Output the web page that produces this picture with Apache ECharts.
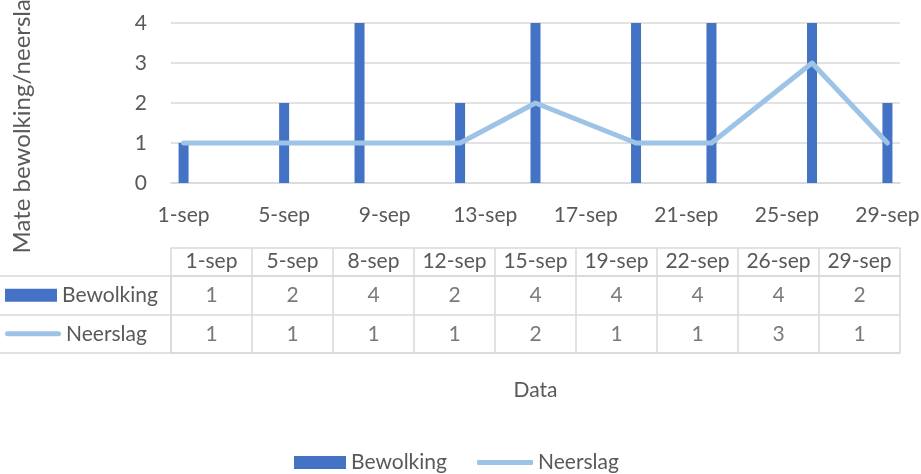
<!DOCTYPE html>
<html>
<head>
<meta charset="utf-8">
<script src="https://cdn.jsdelivr.net/npm/echarts@6/dist/echarts.min.js"></script>
<style>
  html, body { margin: 0; padding: 0; background: #fff; }
  #chart { width: 921px; height: 474px; }
</style>
</head>
<body>
<div id="chart"></div>
<script>
// Observation dates (September) and the two ratings per date
const dates = ['1-sep', '5-sep', '8-sep', '12-sep', '15-sep', '19-sep', '22-sep', '26-sep', '29-sep'];
const bewolking = [1, 2, 4, 2, 4, 4, 4, 4, 2];
const neerslag = [1, 1, 1, 1, 2, 1, 1, 3, 1];
// Day numbers shown on the date axis
const dayTicks = [1, 5, 9, 13, 17, 21, 25, 29];
const seriesNames = ['Bewolking', 'Neerslag'];

const FONT = 'Lato';
const TEXT = '#595959';
const GRID = '#D9D9D9';
const BAR = '#4472C4';
const LINE = '#9DC3E6';

const dayOf = s => parseInt(s, 10);
const barData = dates.map((d, i) => [dayOf(d), bewolking[i]]);
const lineData = dates.map((d, i) => [dayOf(d), neerslag[i]]);

// Cells of the data table underneath the chart
const cellData = [];
dates.forEach((d, i) => {
  cellData.push([d, seriesNames[0], bewolking[i]]);
  cellData.push([d, seriesNames[1], neerslag[i]]);
});

const legendText = { fontFamily: FONT, fontSize: 21, color: TEXT };

const chart = echarts.init(document.getElementById('chart'));
chart.setOption({
  backgroundColor: '#fff',
  textStyle: { fontFamily: FONT, color: TEXT },
  animation: false,
  grid: [
    { left: 171, right: 21, top: 23, height: 160, outerBoundsMode: 'none' },
    { left: 171, right: 21, top: 276, height: 77, outerBoundsMode: 'none' }
  ],
  legend: [
    {
      data: [{ name: 'Bewolking', icon: 'rect' }],
      left: 289,
      top: 447,
      itemWidth: 52,
      itemHeight: 13,
      itemGap: 0,
      textStyle: legendText
    },
    {
      data: [{ name: 'Neerslag', icon: 'roundRect' }],
      left: 472,
      top: 447,
      itemWidth: 56,
      itemHeight: 5,
      itemGap: 0,
      textStyle: legendText
    }
  ],
  xAxis: [
    {
      type: 'value',
      gridIndex: 0,
      min: 0.5,
      max: 29.5,
      name: 'Data',
      nameLocation: 'middle',
      nameGap: 197,
      nameTextStyle: { fontFamily: FONT, fontSize: 21, color: TEXT },
      axisLine: { show: true, lineStyle: { color: GRID, width: 1.5 } },
      axisTick: { show: false },
      splitLine: { show: false },
      axisLabel: {
        customValues: dayTicks,
        formatter: v => v + '-sep',
        margin: 22,
        fontFamily: FONT, fontSize: 21, color: TEXT
      }
    },
    {
      type: 'category',
      gridIndex: 1,
      data: dates,
      position: 'top',
      axisLine: { show: true, lineStyle: { color: GRID, width: 1.5 } },
      axisTick: { show: true, interval: 0, inside: false, length: 28, lineStyle: { color: GRID, width: 1.5 } },
      splitLine: { show: true, interval: 0, lineStyle: { color: GRID, width: 1.5 } },
      axisLabel: { interval: 0, margin: 4, fontFamily: FONT, fontSize: 21, color: TEXT }
    },
    {
      type: 'category',
      gridIndex: 1,
      data: dates,
      position: 'top',
      offset: 28,
      axisLine: { show: true, lineStyle: { color: GRID, width: 1.5 } },
      axisTick: { show: false },
      axisLabel: { show: false },
      splitLine: { show: false }
    },
    {
      type: 'category',
      gridIndex: 1,
      data: dates,
      position: 'bottom',
      axisLine: { show: true, lineStyle: { color: GRID, width: 1.5 } },
      axisTick: { show: false },
      axisLabel: { show: false },
      splitLine: { show: false }
    }
  ],
  yAxis: [
    {
      type: 'value',
      gridIndex: 0,
      min: 0,
      max: 4,
      interval: 1,
      name: 'Mate bewolking/neerslag',
      nameLocation: 'middle',
      nameGap: 137,
      nameTextStyle: { fontFamily: FONT, fontSize: 24, color: TEXT, padding: [0, 34, 0, 0] },
      axisLine: { show: false },
      axisTick: { show: false },
      splitLine: { show: true, lineStyle: { color: GRID, width: 1.5 } },
      axisLabel: { margin: 24, fontFamily: FONT, fontSize: 21, color: TEXT }
    },
    {
      type: 'category',
      gridIndex: 1,
      data: seriesNames,
      inverse: true,
      axisLine: { show: true, lineStyle: { color: GRID, width: 1.5 } },
      axisTick: { show: true, interval: 0, inside: false, length: 171, lineStyle: { color: GRID, width: 1.5 } },
      splitLine: { show: true, interval: 0, lineStyle: { color: GRID, width: 1.5 } },
      axisLabel: {
        interval: 0,
        align: 'left',
        margin: 166,
        formatter: v => (v === 'Bewolking' ? '{bar|}' : '{ln|}') + '{t|' + v + '}',
        rich: {
          bar: { width: 52, height: 13, backgroundColor: BAR },
          ln: { width: 56, height: 5, backgroundColor: LINE, borderRadius: 3 },
          t: { fontFamily: FONT, fontSize: 21, color: TEXT, padding: [0, 0, 0, 5] }
        }
      }
    }
  ],
  series: [
    {
      name: 'Bewolking',
      type: 'bar',
      xAxisIndex: 0,
      yAxisIndex: 0,
      data: barData,
      barWidth: 10,
      itemStyle: { color: BAR },
      z: 2
    },
    {
      name: 'Neerslag',
      type: 'line',
      xAxisIndex: 0,
      yAxisIndex: 0,
      data: lineData,
      symbol: 'none',
      lineStyle: { color: LINE, width: 5, cap: 'round', join: 'round' },
      itemStyle: { color: LINE },
      z: 3
    },
    {
      name: 'tabel',
      type: 'scatter',
      xAxisIndex: 1,
      yAxisIndex: 1,
      data: cellData,
      symbolSize: 1,
      itemStyle: { color: 'rgba(0,0,0,0)' },
      label: {
        show: true,
        position: 'inside',
        formatter: p => String(p.value[2]),
        fontFamily: FONT, fontSize: 21, color: TEXT
      },
      silent: true
    }
  ]
});
</script>
</body>
</html>
